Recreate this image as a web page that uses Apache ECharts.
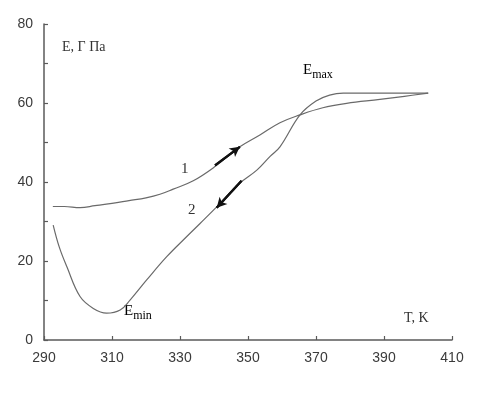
<!DOCTYPE html>
<html><head><meta charset="utf-8">
<script src="https://cdn.jsdelivr.net/npm/echarts@6/dist/echarts.min.js"></script>
<style>html,body{margin:0;padding:0;background:#fff}#c{width:487px;height:396px}</style>
</head><body><div id="c"></div>
<script>
// Curve 1 (heating): [T, E]
const T1 = [292.6, 296, 300.6, 305, 310, 315, 320, 324.1, 328, 333.9, 340.3, 347.6, 353.5, 359.4, 365.3, 372, 379, 388.8, 396, 403];
const E1 = [33.8, 33.8, 33.5, 34.0, 34.6, 35.3, 36.0, 36.9, 38.2, 40.3, 43.9, 48.9, 51.9, 55.0, 57.0, 58.8, 59.9, 60.9, 61.7, 62.5];
// Curve 2 (cooling): [T, E]
const T2 = [292.7, 294.5, 296.7, 300.6, 304.5, 308.4, 312.4, 315.3, 320.2, 326.1, 332, 335.9, 340.8, 347.6, 352.6, 356.5, 359.4, 365.3, 370, 374, 378, 383, 392, 403];
const E2 = [29.1, 23.5, 18.6, 11.0, 8.0, 6.8, 7.6, 10.1, 15.2, 21.1, 26.2, 29.5, 33.7, 39.7, 43.0, 46.5, 48.9, 57.0, 60.5, 62.0, 62.5, 62.5, 62.5, 62.5];
// Arrow annotations (data coords)
const arrow1 = [[340.3, 44.2], [347.6, 48.9]];
const arrow2 = [[348.1, 40.3], [340.8, 33.5]];
const xTicks = [290, 310, 330, 350, 370, 390, 410];
const yTicks = [0, 20, 40, 60, 80];

const zip = (a, b) => a.map((v, i) => [v, b[i]]);
const chart = echarts.init(document.getElementById('c'), null, {renderer: 'canvas'});
const lineColor = '#6a6a6a';
const axisColor = '#5a5a5a';
const serif = 'Liberation Serif';
chart.setOption({
  animation: false,
  grid: {left: 44, right: 35, top: 24, bottom: 56},
  xAxis: {
    type: 'value', min: 290, max: 410, interval: 20,
    axisLine: {show: true, lineStyle: {color: axisColor, width: 1.5}},
    axisTick: {show: true, inside: true, length: 4, lineStyle: {color: axisColor, width: 1.2}},
    splitLine: {show: false},
    axisLabel: {color: '#3a3a3a', fontFamily: 'Liberation Sans', fontSize: 14, margin: 11,
      formatter: v => xTicks.includes(v) ? String(v) : ''}
  },
  yAxis: {
    type: 'value', min: 0, max: 80, interval: 10,
    axisLine: {show: true, lineStyle: {color: axisColor, width: 1.5}},
    axisTick: {show: true, inside: true, length: 4, lineStyle: {color: axisColor, width: 1.2}},
    splitLine: {show: false},
    axisLabel: {color: '#3a3a3a', fontFamily: 'Liberation Sans', fontSize: 14, margin: 11,
      formatter: v => yTicks.includes(v) ? String(v) : ''}
  },
  series: [
    {type: 'line', data: zip(T1, E1), smooth: 0.4, symbol: 'none',
      lineStyle: {color: lineColor, width: 1.2}},
    {type: 'line', data: zip(T2, E2), smooth: 0.4, symbol: 'none',
      lineStyle: {color: lineColor, width: 1.2}},
    {type: 'line', data: arrow1, symbol: 'none', showSymbol: false,
      lineStyle: {color: '#111', width: 2.2},
      markLine: {silent: true, symbol: ['none', 'arrow'], symbolSize: [8, 10],
        lineStyle: {color: '#111', width: 2.2, type: 'solid'}, label: {show: false},
        data: [[{coord: arrow1[0]}, {coord: arrow1[1]}]]}},
    {type: 'line', data: arrow2, symbol: 'none', showSymbol: false,
      lineStyle: {color: '#111', width: 2.2},
      markLine: {silent: true, symbol: ['none', 'arrow'], symbolSize: [8, 10],
        lineStyle: {color: '#111', width: 2.2, type: 'solid'}, label: {show: false},
        data: [[{coord: arrow2[0]}, {coord: arrow2[1]}]]}}
  ],
  graphic: [
    {type: 'text', left: 62, top: 40, style: {text: 'E, Γ Πa', font: '14px "Liberation Serif"', fill: '#333'}},
    {type: 'text', left: 404, top: 311, style: {text: 'T, K', font: '14px "Liberation Serif"', fill: '#333'}},
    {type: 'text', left: 181, top: 162, style: {text: '1', font: '15px "Liberation Serif"', fill: '#333'}},
    {type: 'text', left: 188, top: 203, style: {text: '2', font: '15px "Liberation Serif"', fill: '#333'}},
    {type: 'text', left: 303, top: 63, style: {
      rich: {a: {fontFamily: serif, fontSize: 15, color: '#333'},
             b: {fontFamily: serif, fontSize: 12, color: '#333', padding: [8, 0, 0, 0]}},
      text: '{a|E}{b|max}'}},
    {type: 'text', left: 124, top: 304, style: {
      rich: {a: {fontFamily: serif, fontSize: 15, color: '#333'},
             b: {fontFamily: serif, fontSize: 12, color: '#333', padding: [8, 0, 0, 0]}},
      text: '{a|E}{b|min}'}}
  ]
});
</script></body></html>
